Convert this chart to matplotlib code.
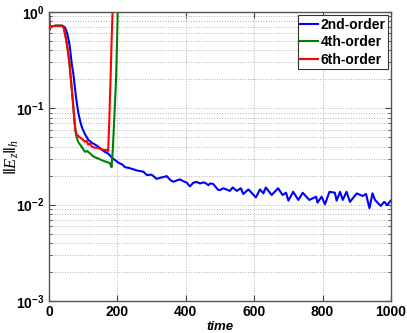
import math

import matplotlib
matplotlib.use("Agg")
import matplotlib.pyplot as plt
from matplotlib.ticker import FixedLocator, FuncFormatter, LogLocator, NullFormatter

# values
t_2nd = [0, 2, 5, 20, 40, 47, 52, 57, 61, 66, 71, 73, 77, 81, 86, 91, 96, 105, 115,
         125, 135, 144, 155, 165, 173, 183, 193, 205, 215, 222, 235, 246, 260, 276,
         286, 300, 315, 325, 334, 344, 355, 363, 373, 383, 393, 403, 412, 422, 432,
         442, 450, 456, 466, 471, 480, 495, 500, 510, 529, 537, 549, 561, 568, 583,
         605, 617, 627, 634, 651, 670, 683, 693, 700, 714, 729, 742, 761, 781, 785,
         797, 807, 820, 836, 841, 851, 859, 870, 880, 900, 917, 927, 937, 946, 953,
         970, 980, 989, 999]
e_2nd = [0.97, 0.66, 0.71, 0.72, 0.72, 0.69, 0.62, 0.52, 0.436, 0.30, 0.23, 0.20,
         0.15, 0.115, 0.089, 0.074, 0.064, 0.054, 0.047, 0.044, 0.042, 0.040, 0.037,
         0.035, 0.034, 0.031, 0.029, 0.027, 0.026, 0.0245, 0.024, 0.0233, 0.0225,
         0.022, 0.0203, 0.0205, 0.0185, 0.019, 0.0193, 0.0198, 0.018, 0.0173, 0.0178,
         0.0183, 0.0175, 0.0169, 0.0155, 0.0169, 0.0172, 0.0166, 0.017, 0.0169,
         0.0159, 0.0166, 0.0164, 0.0142, 0.0142, 0.0148, 0.0139, 0.0151, 0.0139,
         0.0148, 0.0129, 0.0144, 0.0119, 0.0144, 0.0131, 0.0151, 0.0126, 0.0148,
         0.0126, 0.0133, 0.0110, 0.0136, 0.0112, 0.0133, 0.0112, 0.0121, 0.0105,
         0.0121, 0.0101, 0.0136, 0.0133, 0.0110, 0.0136, 0.0112, 0.0136, 0.0107,
         0.0131, 0.0123, 0.0129, 0.0092, 0.0131, 0.0112, 0.0097, 0.0107, 0.0099,
         0.0110]

t_4th = [0, 2, 5, 20, 38, 43, 50, 55, 60, 64, 68, 72, 75, 79, 85, 95, 105, 112,
         120, 128, 135, 145, 154, 165, 178, 183, 187, 191, 196, 199, 201, 203]
e_4th = [0.97, 0.66, 0.71, 0.72, 0.72, 0.69, 0.52, 0.40, 0.29, 0.20, 0.14, 0.095,
         0.07, 0.053, 0.045, 0.040, 0.0354, 0.036, 0.034, 0.032, 0.031, 0.030,
         0.029, 0.028, 0.027, 0.0245, 0.04, 0.08, 0.2, 0.5, 1.0, 1.5]

t_6th = [0, 2, 5, 20, 38, 43, 50, 55, 60, 64, 68, 72, 75, 78, 82, 90, 97, 105, 110,
         115, 120, 125, 134, 140, 150, 160, 168, 173, 176, 180, 183, 186, 188]
e_6th = [0.97, 0.66, 0.71, 0.72, 0.72, 0.69, 0.52, 0.40, 0.29, 0.20, 0.14, 0.095,
         0.07, 0.057, 0.053, 0.050, 0.048, 0.045, 0.046, 0.042, 0.043, 0.040, 0.039,
         0.039, 0.038, 0.037, 0.037, 0.036, 0.07, 0.2, 0.5, 1.05, 1.5]

series = [
    ("2nd-order", t_2nd, e_2nd, "#0000ff"),
    ("4th-order", t_4th, e_4th, "#008000"),
    ("6th-order", t_6th, e_6th, "#ff0000"),
]

plt.rcParams["font.family"] = ["Liberation Sans", "DejaVu Sans"]
plt.rcParams["mathtext.fontset"] = "custom"
plt.rcParams["mathtext.rm"] = "Liberation Sans"
plt.rcParams["mathtext.bf"] = "Liberation Sans:bold"
plt.rcParams["mathtext.it"] = "Liberation Serif:italic"

fig = plt.figure(figsize=(4.07, 3.33), dpi=100)
ax = fig.add_axes([49 / 407, 1 - 301 / 333, 342 / 407, 289 / 333])

for label, t, e, color in series:
    ax.plot(t, e, color=color, linewidth=1.5, label=label)

ax.set_yscale("log")
ax.set_xlim(0, 1000)
ax.set_ylim(1e-3, 1)

ax.xaxis.set_major_locator(FixedLocator([0, 200, 400, 600, 800, 1000]))
ax.yaxis.set_major_locator(LogLocator(base=10, numticks=10))
ax.yaxis.set_minor_locator(LogLocator(base=10, subs=range(2, 10), numticks=20))
ax.yaxis.set_minor_formatter(NullFormatter())
ax.yaxis.set_major_formatter(
    FuncFormatter(lambda v, p: r"$\mathbf{10^{%d}}$" % round(math.log10(v)))
)

ax.grid(True, which="major", axis="both", linestyle=":", color="#b0b0b0", linewidth=0.7)
ax.grid(True, which="minor", axis="y", linestyle=":", color="#b0b0b0", linewidth=0.7)

ax.tick_params(which="both", direction="in", top=True, right=True, colors="#444444",
               labelcolor="black")
ax.tick_params(which="major", length=4, pad=3, labelsize=10)
ax.tick_params(which="minor", length=2)
for lab in ax.get_xticklabels():
    lab.set_fontweight("bold")
for sp in ax.spines.values():
    sp.set_color("#555555")
    sp.set_linewidth(1.0)

ax.set_xlabel("time", fontsize=9.5, fontweight="bold", fontstyle="italic", labelpad=1)
ax.set_ylabel(r"$\|E_z\|_h$", fontsize=12)
ax.yaxis.set_label_coords(-0.082, 0.5)

leg = ax.legend(loc="upper right", prop={"weight": "bold", "size": 10},
                handlelength=1.3, handletextpad=0.15, labelspacing=0.25,
                borderpad=0.15, borderaxespad=0.25, fancybox=False, framealpha=1)
leg.get_frame().set_edgecolor("#333333")
leg.get_frame().set_linewidth(0.8)

fig.savefig("out.png", dpi=100)
